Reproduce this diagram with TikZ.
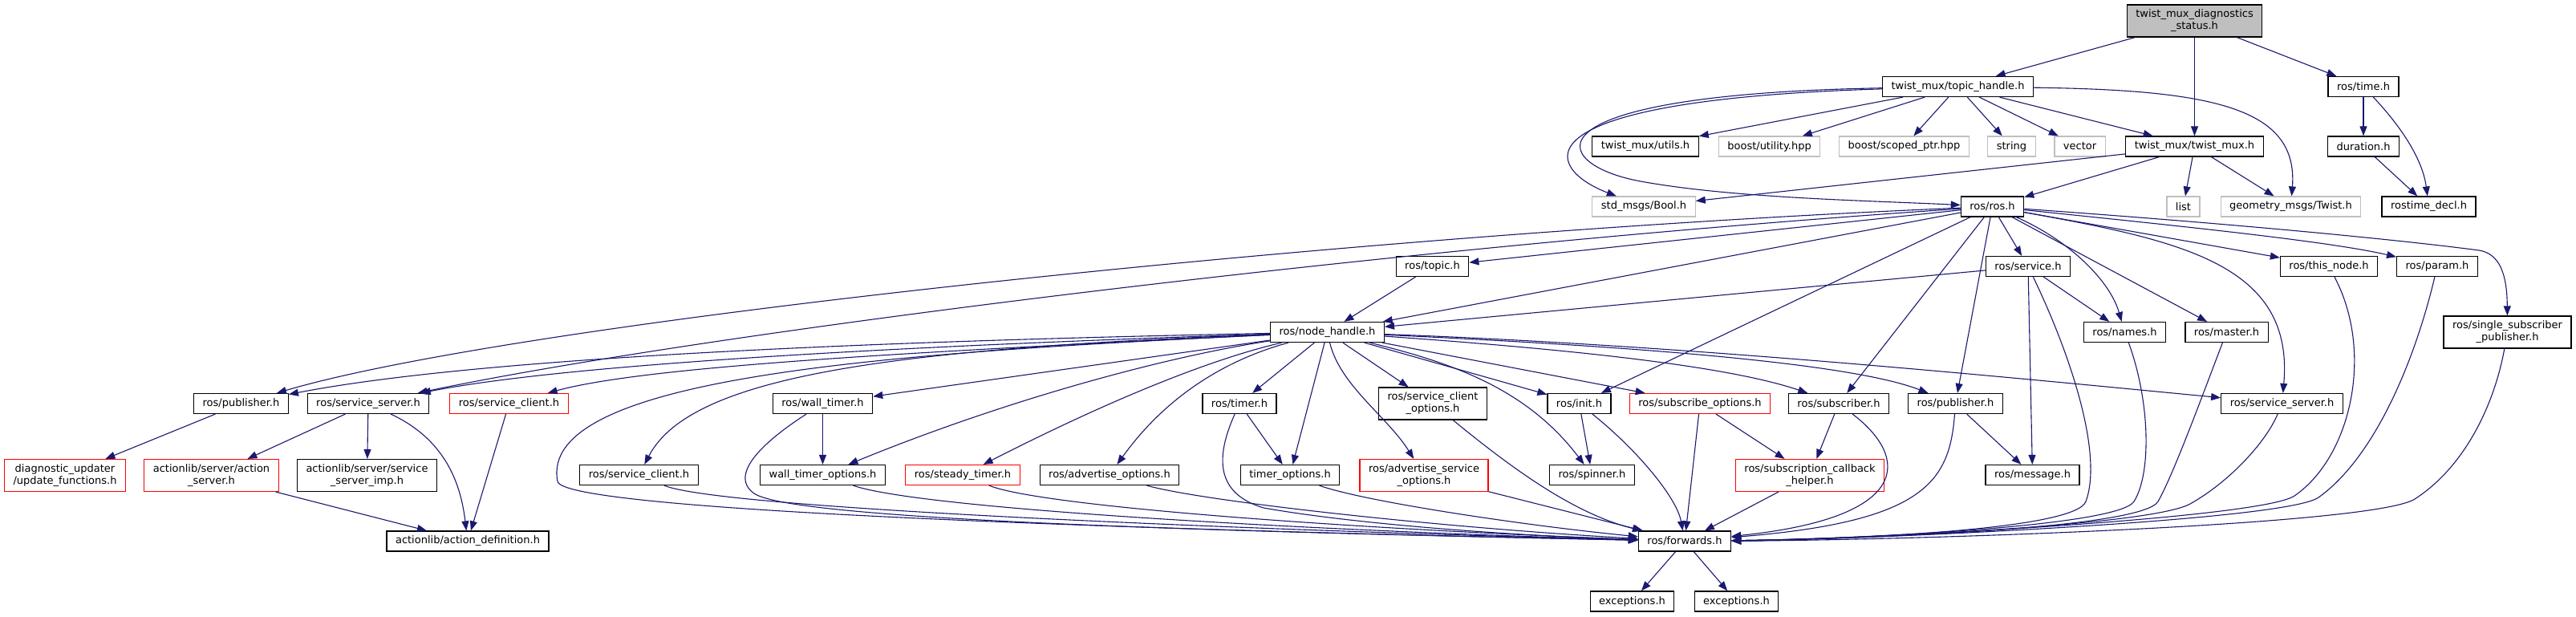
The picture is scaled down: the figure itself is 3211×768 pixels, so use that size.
\documentclass[tikz,border=0pt]{standalone}
\usepackage{fontspec}
\setmainfont{DejaVu Sans}
\usepackage{tikz}
\usetikzlibrary{arrows.meta}

\definecolor{edgeblue}{HTML}{191970}
\definecolor{extgray}{HTML}{BFBFBF}
\definecolor{rootgray}{HTML}{BFBFBF}

\tikzset{
  filebox/.style={draw=black, line width=1.2pt, fill=white, inner xsep=11pt, inner ysep=6pt,
                  minimum height=25pt, align=center, font=\fontsize{13}{15}\selectfont},
  extbox/.style={filebox, draw=extgray},
  redbox/.style={filebox, draw=red},
  rootbox/.style={filebox, fill=rootgray},
  inc/.style={draw=edgeblue, line width=1.1pt, -{Triangle[length=12pt,width=9pt]}},
}

\begin{document}
\begin{tikzpicture}[x=1pt,y=-1pt]
				%\draw[color=gray,help lines,step=50] (0,0) grid (3211,768); %help grid
				\useasboundingbox (0,0) rectangle (3211,768);

				% headers, row by row
				\node[rootbox] (root) at (2735.5,26) {twist\_mux\_diagnostics\\\_status.h};

				\node[filebox] (th) at (2440.5,108) {twist\_mux/topic\_handle.h};
				\node[filebox] (rtime) at (2946,108) {ros/time.h};

				\node[filebox] (utils) at (2051,182.5) {twist\_mux/utils.h};
				\node[extbox] (butil) at (2205.5,182.5) {boost/utility.hpp};
				\node[extbox] (bscoped) at (2373.5,182.5) {boost/scoped\_ptr.hpp};
				\node[extbox] (str) at (2507.5,182.5) {string};
				\node[extbox] (vec) at (2592.5,182.5) {vector};
				\node[filebox] (tm) at (2735.5,182.5) {twist\_mux/twist\_mux.h};
				\node[filebox] (dur) at (2946,182.5) {duration.h};

				\node[extbox] (boolh) at (2049,257.5) {std\_msgs/Bool.h};
				\node[filebox] (ros) at (2483.5,257.5) {ros/ros.h};
				\node[extbox] (lst) at (2721.5,257.5) {list};
				\node[extbox] (twist) at (2855.5,257.5) {geometry\_msgs/Twist.h};
				\node[filebox] (tdecl) at (3027.5,257.5) {rostime\_decl.h};

				\node[filebox] (topic) at (1785.5,332) {ros/topic.h};
				\node[filebox] (svc) at (2528,332) {ros/service.h};
				\node[filebox] (thisn) at (2903,332) {ros/this\_node.h};
				\node[filebox] (param) at (3038,332) {ros/param.h};

				\node[filebox] (nh) at (1654.5,414) {ros/node\_handle.h};
				\node[filebox] (names) at (2648.5,414) {ros/names.h};
				\node[filebox] (master) at (2775.5,414) {ros/master.h};
				\node[filebox] (ssp) at (3125.5,414) {ros/single\_subscriber\\\_publisher.h};

				\node[filebox] (pubA) at (300.5,503) {ros/publisher.h};
				\node[filebox] (srvA) at (459,503) {ros/service\_server.h};
				\node[redbox] (cliA) at (634.5,503) {ros/service\_client.h};
				\node[filebox] (wt) at (1025.5,503) {ros/wall\_timer.h};
				\node[filebox] (timer) at (1545,503) {ros/timer.h};
				\node[filebox] (cliopt) at (1786,503) {ros/service\_client\\\_options.h};
				\node[filebox] (init) at (1968.5,503) {ros/init.h};
				\node[redbox] (subopt) at (2119,503) {ros/subscribe\_options.h};
				\node[filebox] (sub) at (2292,503) {ros/subscriber.h};
				\node[filebox] (pubB) at (2437.5,503) {ros/publisher.h};
				\node[filebox] (srvB) at (2844.5,503) {ros/service\_server.h};

				\node[redbox] (diag) at (81,592.5) {diagnostic\_updater\\/update\_functions.h};
				\node[redbox] (actsrv) at (263.5,592.5) {actionlib/server/action\\\_server.h};
				\node[filebox] (srvimp) at (457.5,592.5) {actionlib/server/service\\\_server\_imp.h};
				\node[filebox] (cliB) at (796.5,592) {ros/service\_client.h};
				\node[filebox] (wtopt) at (1025.5,592) {wall\_timer\_options.h};
				\node[redbox] (steady) at (1200,592) {ros/steady\_timer.h};
				\node[filebox] (advopt) at (1383,592) {ros/advertise\_options.h};
				\node[filebox] (topt) at (1608,592) {timer\_options.h};
				\node[redbox] (advsrv) at (1775,592.5) {ros/advertise\_service\\\_options.h};
				\node[filebox] (spin) at (1984.5,592) {ros/spinner.h};
				\node[redbox] (subcb) at (2256,592.5) {ros/subscription\_callback\\\_helper.h};
				\node[filebox] (msg) at (2533.5,592) {ros/message.h};

				\node[filebox] (actdef) at (583,674.5) {actionlib/action\_definition.h};
				\node[filebox] (fw) at (2100,674.5) {ros/forwards.h};

				\node[filebox] (exA) at (2034.5,749.5) {exceptions.h};
				\node[filebox] (exB) at (2164.5,749.5) {exceptions.h};

				% top part
				\draw[inc] (root) -- (th);
				\draw[inc] (root) -- (tm);
				\draw[inc] (root) -- (rtime);
				\draw[inc] (th) -- (utils);
				\draw[inc] (th) -- (butil);
				\draw[inc] (th) -- (bscoped);
				\draw[inc] (th) -- (str);
				\draw[inc] (th) -- (vec);
				\draw[inc] (th) -- (tm);
				\draw[inc] (th) .. controls (1880,125) and (1925,210) .. (boolh);
				\draw[inc] (th) .. controls (1890,118) and (1930,205) .. (2045,226) .. controls (2160,247) and (2330,250) .. (ros);
				\draw[inc] (th) .. controls (2760,112) and (2865,135) .. (twist);
				\draw[inc] (tm) -- (boolh);
				\draw[inc] (tm) -- (ros);
				\draw[inc] (tm) -- (lst);
				\draw[inc] (tm) -- (twist);
				\draw[inc] (rtime) -- (dur);
				\draw[inc] (rtime) .. controls (2995,160) and (3020,200) .. (tdecl);
				\draw[inc] (dur) -- (tdecl);

				% ros/ros.h
				\draw[inc] (ros) -- (topic);
				\draw[inc] (ros) -- (nh);
				\draw[inc] (ros) .. controls (1700,290) and (650,400) .. (pubA);
				\draw[inc] (ros) .. controls (1700,310) and (850,420) .. (srvA);
				\draw[inc] (ros) -- (svc);
				\draw[inc] (ros) .. controls (2580,300) and (2630,350) .. (names);
				\draw[inc] (ros) -- (master);
				\draw[inc] (ros) .. controls (2720,300) and (2860,330) .. (srvB);
				\draw[inc] (ros) -- (thisn);
				\draw[inc] (ros) .. controls (2700,280) and (2900,300) .. (param);
				\draw[inc] (ros) .. controls (2800,280) and (3000,300) .. (3090,312) .. controls (3115,316) and (3125,340) .. (ssp);
				\draw[inc] (ros) -- (init);
				\draw[inc] (ros) -- (sub);
				\draw[inc] (ros) -- (pubB);
				\draw[inc] (topic) -- (nh);

				% ros/service.h
				\draw[inc] (svc) -- (nh);
				\draw[inc] (svc) -- (names);
				\draw[inc] (svc) -- (msg);

				% ros/node_handle.h
				\draw[inc] (nh) .. controls (1100,425) and (600,445) .. (pubA);
				\draw[inc] (nh) .. controls (1100,432) and (700,455) .. (srvA);
				\draw[inc] (nh) .. controls (1100,440) and (800,458) .. (cliA);
				\draw[inc] (nh) -- (wt);
				\draw[inc] (nh) .. controls (1100,435) and (860,470) .. (cliB);
				\draw[inc] (nh) .. controls (1450,445) and (1250,500) .. (wtopt);
				\draw[inc] (nh) .. controls (1520,445) and (1400,490) .. (steady);
				\draw[inc] (nh) .. controls (1540,445) and (1460,485) .. (advopt);
				\draw[inc] (nh) -- (timer);
				\draw[inc] (nh) -- (topt);
				\draw[inc] (nh) .. controls (1670,480) and (1730,520) .. (advsrv);
				\draw[inc] (nh) -- (cliopt);
				\draw[inc] (nh) -- (init);
				\draw[inc] (nh) .. controls (1800,450) and (1900,480) .. (spin);
				\draw[inc] (nh) -- (subopt);
				\draw[inc] (nh) .. controls (1950,435) and (2150,455) .. (sub);
				\draw[inc] (nh) .. controls (2000,430) and (2300,450) .. (pubB);
				\draw[inc] (nh) .. controls (2100,430) and (2500,470) .. (srvB);
				\draw[inc] (nh) .. controls (1100,440) and (670,470) .. (695,600) .. controls (702.5,639) and (1500,662) .. (fw);

				% left low part
				\draw[inc] (pubA) -- (diag);
				\draw[inc] (srvA) -- (actsrv);
				\draw[inc] (srvA) -- (srvimp);
				\draw[inc] (srvA) .. controls (560,550) and (575,610) .. (actdef);
				\draw[inc] (cliA) -- (actdef);
				\draw[inc] (actsrv) -- (actdef);
				\draw[inc] (wt) -- (wtopt);
				\draw[inc] (timer) -- (topt);
				\draw[inc] (init) -- (spin);
				\draw[inc] (subopt) -- (subcb);
				\draw[inc] (sub) -- (subcb);
				\draw[inc] (pubB) -- (msg);

				% into ros/forwards.h from the left
				\draw[inc] (cliB) .. controls (900,635) and (1600,662) .. (fw);
				\draw[inc] (wt) .. controls (960,545) and (905,590) .. (940,615) .. controls (990,650) and (1600,664) .. (fw);
				\draw[inc] (wtopt) .. controls (1150,635) and (1650,662) .. (fw);
				\draw[inc] (steady) .. controls (1300,632) and (1700,660) .. (fw);
				\draw[inc] (advopt) .. controls (1500,625) and (1800,658) .. (fw);
				\draw[inc] (timer) .. controls (1515,570) and (1515,615) .. (1575,633) .. controls (1700,655) and (1900,668) .. (fw);
				\draw[inc] (topt) .. controls (1700,625) and (1900,655) .. (fw);
				\draw[inc] (advsrv) -- (fw);
				\draw[inc] (cliopt) .. controls (1880,580) and (1960,640) .. (fw);
				\draw[inc] (init) .. controls (2040,560) and (2090,620) .. (fw);
				\draw[inc] (subopt) -- (fw);
				\draw[inc] (subcb) -- (fw);

				% into ros/forwards.h from the right
				\draw[inc] (sub) .. controls (2380,570) and (2385,645) .. (fw);
				\draw[inc] (pubB) .. controls (2430,600) and (2400,650) .. (fw);
				\draw[inc] (svc) .. controls (2580,440) and (2622,565) .. (2600,625) .. controls (2587,661) and (2300,672) .. (fw);
				\draw[inc] (names) .. controls (2680,500) and (2682,590) .. (2660,625) .. controls (2640,657) and (2300,672) .. (fw);
				\draw[inc] (master) .. controls (2750,480) and (2710,590) .. (2690,625) .. controls (2670,660) and (2300,672) .. (fw);
				\draw[inc] (srvB) .. controls (2825,550) and (2780,600) .. (2730,628) .. controls (2680,656) and (2300,672) .. (fw);
				\draw[inc] (thisn) .. controls (2960,440) and (2930,570) .. (2860,618) .. controls (2818,647) and (2300,673) .. (fw);
				\draw[inc] (param) .. controls (3010,450) and (2960,570) .. (2890,620) .. controls (2848,650) and (2300,673) .. (fw);
				\draw[inc] (ssp) .. controls (3110,500) and (3075,580) .. (3010,622) .. controls (2960,654) and (2400,673) .. (fw);

				\draw[inc] (fw) -- (exA);
				\draw[inc] (fw) -- (exB);
\end{tikzpicture}
\end{document}
